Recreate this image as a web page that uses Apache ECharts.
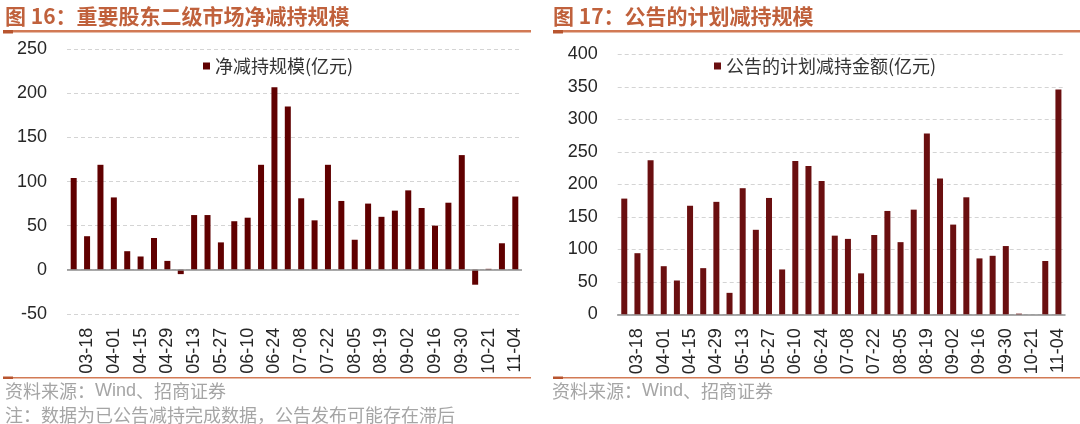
<!DOCTYPE html>
<html>
<head>
<meta charset="utf-8">
<script src="https://cdn.jsdelivr.net/npm/echarts@6/dist/echarts.min.js"></script>
<style>
html,body{margin:0;padding:0;background:#fff;}
#chart{width:1080px;height:424px;}
</style>
</head>
<body>
<div id="chart"></div>
<script>
const categories = ['03-11','03-18','03-25','04-01','04-08','04-15','04-22','04-29','05-06','05-13','05-20','05-27','06-03','06-10','06-17','06-24','07-01','07-08','07-15','07-22','07-29','08-05','08-12','08-19','08-26','09-02','09-09','09-16','09-23','09-30','10-14','10-21','10-28','11-04'];
const netReduction = [104, 38, 119, 82, 21, 15, 36, 10, -5, 62, 62, 31, 55, 59, 119, 207, 185, 81, 56, 119, 78, 34, 75, 60, 67, 90, 70, 50, 76, 130, -17, 1, 30, 83];
const plannedReduction = [178, 94, 237, 74, 52, 167, 71, 173, 33, 194, 130, 179, 69, 236, 228, 205, 121, 116, 63, 122, 159, 111, 161, 278, 209, 138, 180, 86, 90, 105, 1, 0, 82, 346];
const leftTicks = {min: -50, max: 250, interval: 50};
const rightTicks = {min: 0, max: 400, interval: 50};
const leftTitle = '图 16：重要股东二级市场净减持规模';
const rightTitle = '图 17：公告的计划减持规模';
const leftSeriesName = '净减持规模(亿元)';
const rightSeriesName = '公告的计划减持金额(亿元)';
const sourceParts = ['资料来源：', 'Wind', '、招商证券'];
const noteText = '注：数据为已公告减持完成数据，公告发布可能存在滞后';

const CJK = '"Noto Sans CJK SC", sans-serif';
const NUM = '"Liberation Sans", Arial, sans-serif';
const titleColor = '#C0613C';
const ruleColor = '#D27A55';
const ruleDark = '#B8552F';
const grayText = '#A5A5A5';

const chart = echarts.init(document.getElementById('chart'), null, {renderer: 'canvas'});

function xAxisCfg(gridIndex) {
  return {
    type: 'category', gridIndex, data: categories,
    axisLine: {show: gridIndex === 1, onZero: false, lineStyle: {color: '#8C8C8C', width: 1.5}},
    axisTick: {show: false},
    axisLabel: {
      interval: (i) => i % 2 === 1,
      rotate: 90, margin: 14, fontSize: 18, fontFamily: NUM, color: '#262626'
    },
    position: 'bottom'
  };
}
function yAxisCfg(gridIndex, t) {
  return {
    type: 'value', gridIndex, min: t.min, max: t.max, interval: t.interval,
    axisLine: {show: false}, axisTick: {show: false},
    axisLabel: {fontSize: 18, fontFamily: NUM, color: '#262626', margin: 20},
    splitLine: {show: true, lineStyle: {color: '#D4D4D4', type: [4, 3], width: 1}}
  };
}
function sourceGraphic(left, top) {
  return {
    type: 'text', left, top,
    style: {
      text: '{a|' + sourceParts[0] + '}{b|' + sourceParts[1] + '}{a|' + sourceParts[2] + '}',
      rich: {
        a: {fontFamily: CJK, fontSize: 18, fill: grayText, color: grayText},
        b: {fontFamily: NUM, fontSize: 18, fill: grayText, color: grayText}
      }
    }
  };
}

const option = {
  backgroundColor: '#ffffff',
  animation: false,
  grid: [
    {left: 67, width: 455, top: 49.3, height: 264.5, containLabel: false},
    {left: 617.7, width: 447.3, top: 54.3, height: 260, containLabel: false}
  ],
  xAxis: [xAxisCfg(0), xAxisCfg(1)],
  yAxis: [yAxisCfg(0, leftTicks), yAxisCfg(1, rightTicks)],
  legend: [
    {data: [leftSeriesName], left: 198, top: 52, icon: 'rect', itemWidth: 7, itemHeight: 7,
     textStyle: {fontSize: 18, fontFamily: CJK, color: '#333'}},
    {data: [rightSeriesName], left: 709, top: 52, icon: 'rect', itemWidth: 7, itemHeight: 7,
     textStyle: {fontSize: 18, fontFamily: CJK, color: '#333'}}
  ],
  series: [
    {
      name: leftSeriesName, type: 'bar', xAxisIndex: 0, yAxisIndex: 0, data: netReduction,
      barWidth: 6, itemStyle: {color: '#600000'},
      markLine: {silent: true, symbol: 'none', label: {show: false},
        lineStyle: {color: '#8C8C8C', type: 'solid', width: 1.5}, data: [{yAxis: 0}]}
    },
    {
      name: rightSeriesName, type: 'bar', xAxisIndex: 1, yAxisIndex: 1, data: plannedReduction,
      barWidth: 6, itemStyle: {color: '#6A0F10'}
    }
  ],
  graphic: [
    {type: 'text', left: 5, top: 6, style: {text: leftTitle, font: 'bold 21px ' + CJK, fill: titleColor}},
    {type: 'text', left: 553, top: 6, style: {text: rightTitle, font: 'bold 21px ' + CJK, fill: titleColor}},
    {type: 'rect', shape: {x: 3, y: 30, width: 528, height: 2.5}, style: {fill: ruleColor}},
    {type: 'rect', shape: {x: 3, y: 30, width: 10, height: 3.5}, style: {fill: ruleDark}},
    {type: 'rect', shape: {x: 553, y: 30, width: 527, height: 2.5}, style: {fill: ruleColor}},
    {type: 'rect', shape: {x: 553, y: 30, width: 10, height: 3.5}, style: {fill: ruleDark}},
    {type: 'rect', shape: {x: 3, y: 377, width: 528, height: 1.5}, style: {fill: ruleColor}},
    {type: 'rect', shape: {x: 3, y: 376.5, width: 10, height: 2.5}, style: {fill: ruleDark}},
    {type: 'rect', shape: {x: 553, y: 377, width: 527, height: 1.5}, style: {fill: ruleColor}},
    {type: 'rect', shape: {x: 553, y: 376.5, width: 10, height: 2.5}, style: {fill: ruleDark}},
    sourceGraphic(5, 382),
    {type: 'text', left: 5, top: 406, style: {text: noteText, font: '18px ' + CJK, fill: grayText}},
    sourceGraphic(552, 382)
  ]
};
chart.setOption(option);
</script>
</body>
</html>
